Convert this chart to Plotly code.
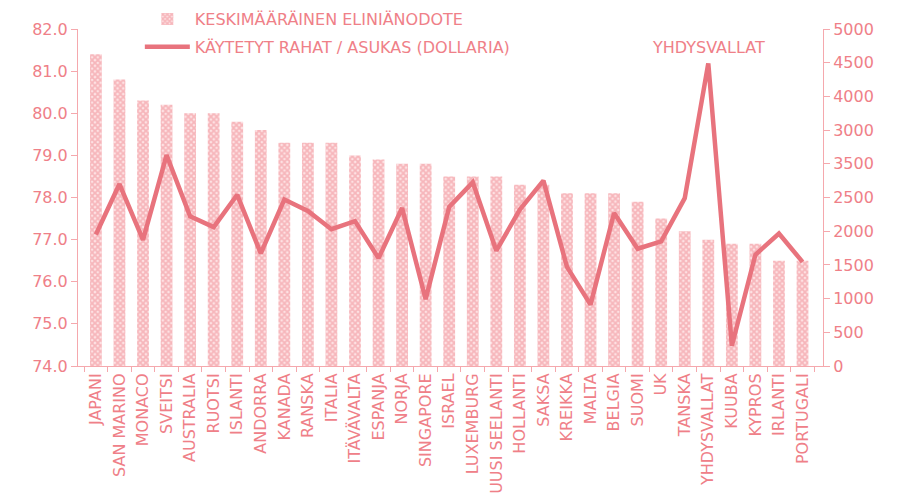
import plotly.graph_objects as go

countries = ["JAPANI", "SAN MARINO", "MONACO", "SVEITSI", "AUSTRALIA", "RUOTSI", "ISLANTI",
             "ANDORRA", "KANADA", "RANSKA", "ITALIA", "ITÄVÄVALTA", "ESPANJA", "NORJA",
             "SINGAPORE", "ISRAEL", "LUXEMBURG", "UUSI SEELANTI", "HOLLANTI", "SAKSA",
             "KREIKKA", "MALTA", "BELGIA", "SUOMI", "UK", "TANSKA", "YHDYSVALLAT", "KUUBA",
             "KYPROS", "IRLANTI", "PORTUGALI"]

life_expectancy = [81.4, 80.8, 80.3, 80.2, 80.0, 80.0, 79.8, 79.6, 79.3, 79.3, 79.3, 79.0,
                   78.9, 78.8, 78.8, 78.5, 78.5, 78.5, 78.3, 78.3, 78.1, 78.1, 78.1, 77.9,
                   77.5, 77.2, 77.0, 76.9, 76.9, 76.5, 76.5]

spending = [1950, 2700, 1870, 3130, 2220, 2060, 2540, 1670, 2470, 2300, 2030, 2150, 1600,
            2345, 990, 2360, 2725, 1710, 2320, 2750, 1470, 910, 2270, 1740, 1850, 2490,
            4490, 300, 1650, 1965, 1545]

left_ticks = [74, 75, 76, 77, 78, 79, 80, 81, 82]
right_tickvals = [0, 500, 1000, 1500, 2000, 2500, 3000, 3500, 4000, 4500, 5000]
right_ticktext = ["0", "500", "1000", "1500", "2000", "2500", "3500", "3000", "4000", "4500", "5000"]

bar_name = "KESKIMÄÄRÄINEN ELINIÄNODOTE"
line_name = "KÄYTETYT RAHAT / ASUKAS (DOLLARIA)"
peak_label = "YHDYSVALLAT"

TEXT = "#ef8088"
LINE = "#e8737d"
BAR = "#f08a91"
BAR_BG = "#fde2e4"
AXIS = "#f5a8ad"
FONT = "DejaVu Sans"

fig = go.Figure()
fig.add_trace(go.Bar(
    x=countries, y=[v - 74 for v in life_expectancy], base=74,
    name=bar_name, width=0.5, legendgroup="a",
    marker=dict(color=BAR, line=dict(width=0),
                pattern=dict(shape="x", fgcolor=BAR, bgcolor=BAR_BG, size=4, solidity=0.7)),
    hoverinfo="skip",
))
fig.add_trace(go.Scatter(
    x=countries, y=spending, name=line_name, yaxis="y2", mode="lines", legendgroup="b",
    line=dict(color=LINE, width=4.5),
))

fig.add_annotation(x=peak_label, y=4490, xref="x", yref="y2", text=peak_label,
                   showarrow=False, yanchor="bottom", yshift=4,
                   font=dict(family=FONT, size=16, color=TEXT))

fig.update_layout(
    width=904, height=500,
    margin=dict(l=70, r=89, t=21, b=142, autoexpand=False),
    plot_bgcolor="white", paper_bgcolor="white",
    font=dict(family=FONT, size=16, color=TEXT),
    bargap=0.5,
    showlegend=True,
    legend=dict(x=0.083, y=1.08, xref="paper", yref="paper", xanchor="left", yanchor="top",
                bgcolor="rgba(0,0,0,0)",
                font=dict(family=FONT, size=16, color=TEXT), tracegroupgap=4,
                itemwidth=45),
    xaxis=dict(type="category", range=[-0.76, 30.87], tickangle=-90, showline=True,
               linecolor=AXIS, linewidth=1, ticks="outside", ticklen=5, tickcolor=AXIS,
               tickson="boundaries", showgrid=False, tickfont=dict(size=16, color=TEXT),
               fixedrange=True),
    yaxis=dict(range=[74, 82], tickvals=left_ticks, tickformat=".1f", showline=True,
               linecolor=AXIS, linewidth=1, ticks="outside", ticklen=6, tickcolor=AXIS,
               showgrid=False, zeroline=False, tickfont=dict(size=16, color=TEXT)),
    yaxis2=dict(range=[0, 5000], overlaying="y", side="right", tickvals=right_tickvals,
                ticktext=right_ticktext, showline=True, linecolor=AXIS, linewidth=1,
                ticks="outside", ticklen=6, tickcolor=AXIS, showgrid=False, zeroline=False,
                tickfont=dict(size=16, color=TEXT)),
)

fig.write_html("out.html")
